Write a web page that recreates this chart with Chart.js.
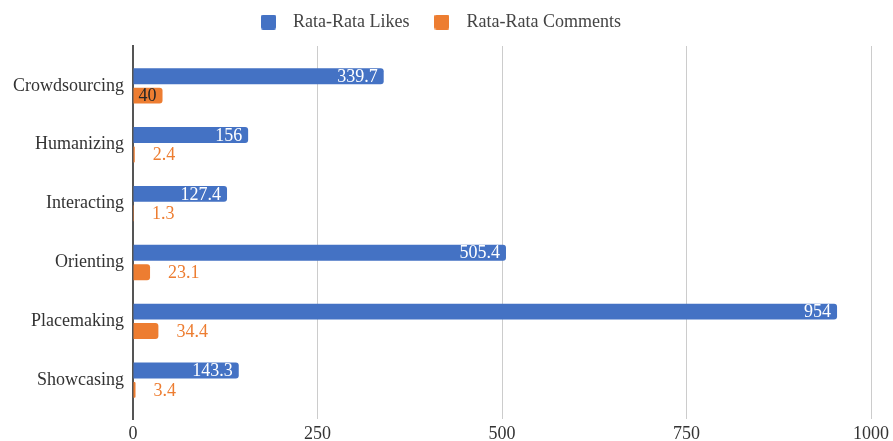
<!DOCTYPE html>
<html><head><meta charset="utf-8">
<script src="https://cdn.jsdelivr.net/npm/chart.js@4/dist/chart.umd.min.js"></script>
<style>html,body{margin:0;padding:0;background:#fff}</style>
</head><body>
<canvas id="c" width="893" height="441"></canvas>
<script>
const categories = ['Crowdsourcing','Humanizing','Interacting','Orienting','Placemaking','Showcasing'];
const likes = [339.7, 156, 127.4, 505.4, 954, 143.3];
const comments = [40, 2.4, 1.3, 23.1, 34.4, 3.4];
const xTicks = [0, 250, 500, 750, 1000];
const seriesNames = ['Rata-Rata Likes', 'Rata-Rata Comments'];
const seriesColors = ['#4472c4', '#ed7d31'];

const FONT = '"Liberation Serif", serif';
const FS = 18;
Chart.defaults.font.family = FONT;

function legendSwatch(color) {
  const c = document.createElement('canvas');
  c.width = 15; c.height = 15;
  const g = c.getContext('2d');
  g.fillStyle = color;
  g.beginPath();
  if (g.roundRect) g.roundRect(0, 0, 15, 15, 2); else g.rect(0, 0, 15, 15);
  g.fill();
  return c;
}
const swatches = seriesColors.map(legendSwatch);

const labelPlugin = {
  id: 'barLabels',
  afterInit(chart) {
    const lg = chart.legend;
    if (lg) {
      const fit = lg.fit;
      lg.fit = function () { fit.call(this); this.height += 5; };
    }
  },
  afterDatasetsDraw(chart) {
    const ctx = chart.ctx;
    ctx.save();
    ctx.font = FS + 'px ' + FONT;
    ctx.textBaseline = 'middle';
    chart.data.datasets.forEach((ds, di) => {
      const meta = chart.getDatasetMeta(di);
      meta.data.forEach((el, i) => {
        const v = ds.data[i].x;
        const txt = String(v);
        const tw = ctx.measureText(txt).width;
        const w = el.x - el.base;
        if (di === 0 || w >= tw + 10) {
          ctx.fillStyle = di === 0 ? '#ffffff' : '#262626';
          ctx.textAlign = 'right';
          ctx.fillText(txt, el.x - 6, el.y + 1);
        } else {
          ctx.fillStyle = seriesColors[1];
          ctx.textAlign = 'left';
          ctx.fillText(txt, el.x + 18, el.y + 1);
        }
      });
    });
    ctx.restore();
  }
};

function draw() {
  new Chart(document.getElementById('c'), {
    type: 'bar',
    data: {
      datasets: [
        { label: seriesNames[0], data: likes.map((v, i) => ({x: v, y: i})),
          backgroundColor: seriesColors[0], borderRadius: 3, borderSkipped: 'start',
          categoryPercentage: 0.66, barPercentage: 0.82 },
        { label: seriesNames[1], data: comments.map((v, i) => ({x: v, y: i})),
          backgroundColor: seriesColors[1], borderRadius: 3, borderSkipped: 'start',
          categoryPercentage: 0.66, barPercentage: 0.82 }
      ]
    },
    options: {
      indexAxis: 'y',
      responsive: false,
      animation: false,
      layout: { padding: { left: 0, right: 19, top: -4, bottom: 0 } },
      plugins: {
        tooltip: { enabled: false },
        legend: {
          position: 'top',
          labels: {
            usePointStyle: true, pointStyleWidth: 31, boxHeight: 15,
            font: { family: FONT, size: FS }, color: '#444', padding: 17,
            generateLabels: chart => {
              const items = Chart.defaults.plugins.legend.labels.generateLabels(chart);
              items.forEach((it, k) => { it.pointStyle = swatches[k]; });
              return items;
            }
          }
        }
      },
      scales: {
        x: {
          type: 'linear', min: 0, max: 1000,
          afterBuildTicks: s => { s.ticks = xTicks.map(v => ({value: v})); },
          ticks: { font: { family: FONT, size: FS }, color: '#333', padding: 4,
                   callback: v => String(v) },
          grid: { color: '#cccccc', lineWidth: 1, drawTicks: false },
          border: { display: false },
          afterFit: s => { s.height = 22; }
        },
        y: {
          type: 'linear', reverse: true, offset: false, min: -0.678, max: 5.66,
          afterBuildTicks: s => { s.ticks = categories.map((c, i) => ({value: i})); },
          ticks: { font: { family: FONT, size: FS }, color: '#333', padding: 9,
                   callback: v => categories[v] },
          grid: { display: false, drawTicks: false, offset: false },
          border: { display: true, color: '#555', width: 2 },
          afterFit: s => { s.width = 133; }
        }
      }
    },
    plugins: [labelPlugin]
  });
}

let started = false;
function go() { if (!started) { started = true; draw(); } }
if (document.fonts && document.fonts.load) {
  document.fonts.load(FS + 'px "Liberation Serif"').then(go, go);
  setTimeout(go, 1500);
} else { go(); }
</script>
</body></html>
